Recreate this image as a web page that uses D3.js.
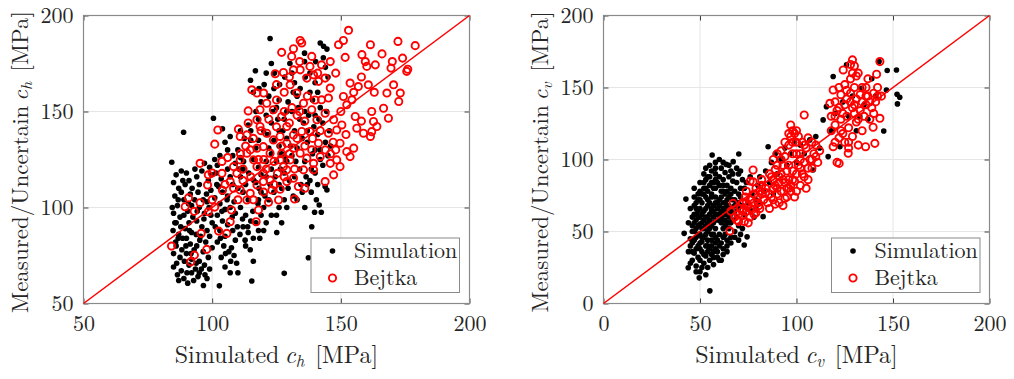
<!DOCTYPE html>
<html>
<head>
<meta charset="utf-8">
<script src="https://cdn.jsdelivr.net/npm/d3@7"></script>
<style>
  body { margin: 0; background: #fff; }
</style>
</head>
<body>
<svg id="chart" width="1014" height="379"></svg>
<script>
// ---- horizontal stiffness c_h [MPa] ----
const leftTicks = [50, 100, 150, 200];
const leftSimulation = [
  [84.3,123.6],[85,113],[86,117],[87,110],[85.5,106],[88,108],[86.5,101],[85,97],[87.5,95],[86,92],
  [84.8,88],[87,86],[88.5,84],[86,80],[85,76],[87.5,74],[86.2,71],[85,69],[88,67],[86.5,65],
  [89,63],[87,62],[90.5,60.6],[89.5,112],[90,118],[91,114],[89,104],[91.5,107],[92,101],[90.5,98],
  [92.5,95],[91,92],[89.5,89],[92,87],[90,84],[91.5,81],[93,78],[90,76],[92,73],[91,70],
  [93.5,68],[92,66],[94.5,64],[88.9,139.2],
  [94,116],[95,112],[96,119],[94.5,108],[96.5,104],[95,100],[97,97],[94,93],[96,90],[98,88],
  [95.5,85],[97.5,82],[94,80],[96.5,77],[98.5,74],[95,72],[97,70],[99,68],[96.6,59.4],[98,63],
  [95,66],[99,121],[97,123],[98.5,114],[99.5,109],[98,103],[99.5,96],[100,92],[99,85],[100,79],
  [84.5,100],[85.5,92],[86.8,84],[88.2,78],[89.2,72],[90.2,66],[91.2,88],[92.2,110],[93.2,104],[94.2,98],
  [88,119],[89,96],[90.8,102],[93.8,86],[95.2,83],[96.8,94],[97.8,107],[98.8,100],[99.8,117],[93.3,120],
  [85.8,82],[87.8,90],[89.8,80],[91.8,76],[93.8,71],[95.8,68],[97.2,65],[92.8,62],[86.8,104],[88.6,114],
  [100.5,146.5],[101,125],[102,122],[103,127],[101.5,118],[103.5,115],[102.5,111],[104,108],[101,105],[103,102],
  [105,99],[102,96],[104,93],[106,91],[103,88],[105,85],[102,82],[104.5,80],[106.5,77],[103.5,74],
  [102.8,59.2],[105,69],[107,66],[106,120],[107,116],[108,112],[106,106],[108.5,103],[107,100],[109,97],
  [106,130],[108,127],[109,123],[105,134],[107,137],[104,141],[108,88],[109,83],[107.5,79],[108.5,75],
  [109.5,71],[110,66],
  [101.8,112],[103.8,98],[105.8,104],[107.8,95],[109.8,90],[111.8,94],[113.8,90],[115.8,98],[117.8,102],[101.2,90],
  [103.2,84],[105.2,76],[107.2,72],[110.8,86],[112.8,83],[114.8,78],
  [110,130],[111,126],[112,120],[111,116],[113,112],[112,108],[114,104],[111,100],[113,96],[115,93],
  [112,90],[114,87],[116,84],[113,80],[115.4,61.7],[116,72],[110,110],[115,140],[114,143],[116.8,171.2],
  [114.9,166.3],[116,160],[117,150],[118,146],[115,135],[117,131],[116,125],[118,121],[119,117],[117,113],
  [119,108],[118,104],[120,100],[119,96],[117,92],[120,88],[118.5,84],[112.5,136],[111,140],[119,155],
  [120,140],[118,135],[110.5,120],[112.2,124],[114.2,118],[116.2,114],[118.2,110],[118.2,162],[118,88],
  [122.5,188],[121,170],[123,175],[124,162],[122,158],[125,152],[121,148],[123,144],[126,140],[124,135],
  [122,131],[127,128],[125,124],[123,120],[121,116],[126,112],[124,108],[128,104],[122,104],[125,96],
  [127,92],[125.1,87],[128,65.7],[129,136],[128,146],[126,156],[129,150],[128,118],[130,114],[127,110],
  [129,100],[121,124],[123,128],[126,132],[129,124],
  [120.5,106],[122.5,112],[124.5,116],[126.5,120],[128.5,126],[121.5,138],[123.5,150],[125.5,146],[127.5,140],[129.5,155],
  [128.2,168],[126.2,164],[124.2,170],[120.2,164],[129.5,110],[126,100],[123,96],[121,92],
  [131,170],[132,165],[133,158],[131,150],[134,146],[132,140],[135,136],[133,131],[131,127],[136,124],
  [134,120],[132,116],[137,112],[135,108],[133,104],[136,100],[138.7,90],[137.4,73.8],[139.8,97.5],[142.4,97.5],
  [141.6,101.3],[144.6,109.1],[143.9,110.9],[142,185.7],[143.3,184],[144.6,182.5],[135.9,180.4],[135.9,176],[138,170],[140,165],
  [141,160],[139,156],[142,152],[140,148],[143,144],[141,138],[144,134],[142,130],[145,127],[143,122],
  [140,118],[138,114],[141,112],[139,128],[137,140],[136,150],[138,160],[145,168],[144,173],[137,134],
  [140,130],[142,125],[146,132],
  [130.5,132],[132.5,124],[134.5,112],[136.5,116],[138.5,120],[131.5,160],[133.5,152],[135.5,144],[137.5,148],[139.5,142],
  [141.5,146],[130.2,175],[134.2,162],[136.2,168],[140.2,176],[143.2,178],[144.5,150],[145.5,140],[140.5,104],[138.5,108],
  [131.5,106]
];
const leftBejtka = [
  [84.2,79.9],[91.7,71.7],[93.1,75.2],[97.9,78.2],[95.7,86.5],[102.5,87.7],[105.7,86.5],[107,92.6],[117.1,92.6],[118,98.7],
  [95.3,102.5],[90.8,105],[89.5,100.4],[98.5,97.8],[101,100.2],[107.5,98.7],[113.5,103.9],[121.9,102.7],[125.8,103.9],[132,104.4],
  [95.3,123],[98.5,117],[98.2,111.7],[103.8,117.8],[103.8,124],[101,133],[102.2,140.4],[110.2,140.8],[110.9,137],[113.5,137.8],
  [114,144],[114,150.3],[115.4,161.3],[117.4,159.6],[120,159.6],[124.5,169.7],[127.7,170.3],[127,180.8],[130.9,178.7],[131.6,182.7],
  [134.2,187],[134.8,185.7],[138.7,178.7],[138,173.5],[142.5,174.3],[145.9,176],[149.1,184.8],[151,187],[153,192.3],[151.7,178.2],
  [158.2,179.6],[159.5,176],[161.5,184.8],[160.1,173.5],[163.4,174.3],[166,180],[172.2,186.5],[178.9,184.3],[174,177.8],[169.5,172.6],
  [175.6,170.9],[170.5,163.9],[167.9,159.6],[173.1,159.6],[172.5,155.2],[166.6,151.7],[168.5,146.5],[164,142.2],[162.7,144.8],[161.5,137],
  [158.8,138.7],[156.2,141.3],[155.6,147.4],[154.3,156.1],[152.3,153.5],[151,157.8],[153.6,164.8],[156.8,163],[160.7,163.9],[155,130.9],
  [153.6,126.5],[152.3,129.1],[149.7,133.5],[148.4,124.8],[149.7,121.3],[147.2,117],[143.9,113.5],[145.9,123],[142,126.5],[139.4,123],
  [136.8,125.7],[138.7,130],[141.3,133.5],[145.2,138.7],[148.4,140.4],[147.2,145.7],[143.9,149.1],[142.5,156.1],[145.2,157],[145.9,162.2],
  [143.9,167.4],[141.3,165.7],[139.4,169.1],[136.8,167.4],[134.2,171.7],[131.6,171.7],[130.3,163.9],[132.9,159.6],[135.5,154.3],[138.7,150.9],
  [140.7,145.7],[138,139.6],[134.8,139.6],[131.6,137.8],[129,142.2],[127,147.4],[123.8,150.9],[121.2,154.3],[118.6,150.9],[117.4,145.7],
  [118.6,142.2],[121.2,138.7],[123.8,135.2],[126.4,137],[129,133.5],[131.6,130.9],[134.2,128.3],[130.3,124.8],[127.7,121.3],[125.4,117.8],
  [122.5,114.3],[119.9,117.8],[117.4,121.3],[116.1,124.8],[113.5,128.3],[110.9,124.8],[108.3,121.3],[109.6,117.8],[107,113.5],[108.3,110],
  [110.9,109.1],[114.8,107.4],[117.4,111.7],[119.9,113.5],[129,113.5],[131.6,115.2],[129,119.6],[126.4,124.8],[122.5,128.3],[119.9,131.7],
  [117.4,130.9],[114.8,130],[126.4,109.5],[123.2,109.1],[133.5,110.9],[135.5,119.6],[139.4,119.6],[150.4,143],[162,139.5],[128,160],
  [125,142],[133,148],[136,145],[131,152],[127,128],[120,125],[112,114],[104,109],[100,104],[93,98],
  [112,120],[115,116],[118,125],[121,120],[124,124],[127,132],[130,128],[133,136],[136,132],[139,136],
  [142,140],[144,130],[146,128],[147,134],[140,156],[137,158],[134,150],[128,150],[125,156],[122,146],
  [119,140],[116,136],[113,132],[111,128],[120,108],[124,112],[128,116],[132,120],[136,110],[105,112],
  [100,118],[106,126],[110,104],[116,104],[130,144],[134,176],[130,168],[125,164],[141,170],[148,170],
  [150,150],[155,160],[158,168],[163,160],[170,176],[176,172],[162,150],[158,145],[152,138],[148,130]
];

// ---- vertical stiffness c_v [MPa] ----
const rightTicks = [0, 50, 100, 150, 200];
const rightSimulation = [
  [55.1,8.8],[49.6,17.8],[43.9,24.8],[41.8,48.7],[42.7,72.5],[56.3,103.1],[70.1,103.8],[67.2,98.5],[63.6,96.6],[72.9,40.6],
  [74.4,46.3],[46,30],[48,26],[50,22],[52,28],[54,25],[47,35],[49,32],[51,36],[53,33],
  [55,30],[57,27],[45,40],[47,44],[49,40],[51,43],[53,40],[55,38],[57,36],[59,32],
  [61,30],[46,50],[48,52],[50,48],[52,46],[54,50],[56,44],[58,42],[60,40],[62,38],
  [44,56],[46,60],[48,58],[50,55],[52,58],[54,56],[56,54],[58,52],[60,48],[62,46],
  [64,44],[45,66],[47,68],[49,64],[51,62],[53,66],[55,62],[57,60],[59,58],[61,56],
  [63,54],[65,52],[47,74],[49,72],[51,70],[53,74],[55,70],[57,68],[59,66],[61,64],
  [63,62],[65,60],[67,58],[50,78],[52,80],[54,78],[56,76],[58,74],[60,72],[62,70],
  [64,68],[66,66],[68,64],[50,84],[53,86],[55,82],[57,80],[59,84],[61,78],[63,76],
  [65,74],[67,72],[69,70],[58,90],[60,88],[62,86],[64,82],[66,80],[68,78],[70,76],
  [61,94],[63,91],[65,88],[67,85],[69,84],[71,80],[72,86],[70,90],[66,92],[56,92],
  [52,90],[48,46],[50,38],[58,46],[60,62],[62,52],[54,44],[56,64],[58,80],[64,72],
  [66,56],[68,50],[70,54],[64,36],[60,30],[66,46],[52,52],[54,60],[48,66],[56,48],
  [50,60],[62,78],[46,42],[44,36],[58,98],[55,96],[53,94],[60,100],[51,46],[53,54],
  [57,56],[59,70],[61,74],[63,66],[49,54],[47,62],
  [45,45],[47,50],[49,48],[51,52],[53,48],[55,52],[57,48],[59,44],[61,42],[63,48],
  [46,54],[48,62],[50,66],[52,64],[54,68],[56,66],[58,62],[60,58],[62,58],[64,56],
  [47,56],[49,60],[51,56],[53,60],[55,58],[57,64],[59,62],[61,60],[63,58],[65,56],
  [48,70],[50,72],[52,76],[54,72],[56,74],[58,70],[60,68],[62,66],[64,64],[66,62],
  [52,84],[54,88],[56,84],[58,86],[60,82],[62,82],[64,78],[66,76],[68,72],[70,70],
  [50,30],[52,34],[54,36],[56,34],[58,38],[48,38],[46,36],[50,42],[54,40],[56,40],
  [45,28],[48,22],[51,25],[53,20],[57,32],[59,36],[62,34],[64,40],[66,42],[68,46],
  [69,60],[67,64],[65,68],[63,70],[71,74],[72,68],[70,66],[68,68],[58,94],[62,98],
  [65,96],[67,90],[69,94],[71,92],[55,88],[57,84],[53,80],[51,76],[49,76],[47,80],
  [75,70],[76,65],[77,76],[78,60],[79,72],[80,82],[82.7,60.3],[81,88],[83,78],[84,92],
  [85.3,108.9],[86,84],[87,98],[88,76],[89,104],[90,90],[92,100],[94,108],[95,96],[97,104],
  [99,112],[100,98],[102,110],[104,104],[106.9,113.6],[108.6,92.7],[110,116],[112,108],[113.8,127.5],[115.5,136.7],
  [116.4,102],[118,120],[119,157.6],[120,132],[122.5,108.9],[124,140],[125.9,165.7],[127,130],[129,144],[131,120],
  [132.8,129.8],[133.7,149.5],[135,138],[137,128],[139,156],[141,144],[142.8,168],[145.2,119.8],[146.6,148.3],[147,161.8],
  [151.8,162.2],[152.1,145.3],[153.5,143.2],[152.3,138.6],[76,88],[79,66],[81,70],[73,80],[74,84],[72,52],
  [70,44],[71,48],[73,62]
];
const rightBejtka = [
  [65.5,50.3],[67.2,69.5],[66,64],[68,60],[69,58],[70,62],[71,66],[72,61],[73,57],[74,64],
  [72,70],[73.5,74],[75,68],[76,72],[74,78],[76,60],[77,65],[78,70],[78,76],[79,80],
  [77.5,84.5],[77.5,92.7],[80,74],[81,78],[80.5,68],[79,63],[82,82],[82,86],[83,72],[84,77],
  [75,56],[70,57],[76,85],[81,66],[72,64],[74,70],[76,66],[78,62],[80,70],[82,76],
  [85,70],[86,66],[87,74],[88,80],[87,88],[89,93],[88,100],[90,104],[89,69],[90,76],
  [91,84],[92,90],[93,96],[94,73],[95,80],[96,86],[94,102],[96,110],[97,116],[98,120],
  [97,124],[99,118],[100,112],[98,92],[99,85],[100,78],[101,96],[102,104],[103,90],[104,98],
  [104,130.9],[105,108],[106,115],[107,100],[108,94],[106,86],[109,104],[110,110],[108,112],[111,98],
  [112,106],[102,82],[105,80],[93,68],[91,70],[95,74],[97,78],[100,120],[101,116],[103,112],
  [92,100],[95,92],[98,104],[96,96],
  [84,80],[86,76],[88,72],[90,80],[92,78],[94,84],[96,80],[98,86],[100,90],[102,94],
  [104,88],[106,94],[108,100],[110,102],[86,90],[88,86],[90,96],[92,106],[94,112],[96,118],
  [98,112],[100,104],[102,100],[104,110],[97,82],[99,74],[89,82],[91,88],[93,86],
  [117.3,139],[118,130],[119,148.3],[119,108.9],[120,124],[120,140],[121,134],[121,98],[122.1,97.3],[122,115],
  [123,128],[123,145],[124.2,162.2],[124,118],[125,138],[125,152],[126,130],[126.8,104.3],[127,112],[127,122],
  [128,146],[128,156],[129,169.2],[129,136],[129,116],[130,165],[130,150],[131,126],[131,142],[132,160],
  [132,110],[133,134],[133,145],[134,140],[134,120],[135,130],[135.8,108.9],[136,150],[136,138],[137,144],
  [138,128],[139,136],[139.7,122.4],[140,146],[140.6,111.2],[141.5,159.2],[141,140],[142,150],[143.2,128.6],[143.2,168],
  [144,144],[122,150],[126,142],[130,132],[120,112],
  [118,120],[120,130],[122,136],[124,132],[126,148],[128,140],[130,138],[132,128],[134,150],[136,144],
  [138,140],[140,132],[142,144],[123,120],[127,108],[125,112],[129,160],[131,158],[128,166],[137,156]
];
const legendLabels = ["Simulation", "Bejtka"];

const FONT = "'Latin Modern Roman', 'Liberation Serif', serif";
const RED = "#ff0000";
const svg = d3.select("#chart");

// axis title: "<before> c_sub [MPa]" with an italic c and subscript
function labelWithSub(sel, before, sub) {
  sel.append("tspan").text(before);
  sel.append("tspan").attr("dx", "0.22em").style("font-style", "italic").text("c");
  sel.append("tspan").style("font-style", "italic").style("font-size", "0.7em").attr("dy", "0.22em").text(sub);
  sel.append("tspan").attr("dy", "-0.154em").attr("dx", "0.45em").text("[MPa]");
}

function drawPanel(cfg) {
  const x = d3.scaleLinear().domain(cfg.domain).range([cfg.left, cfg.right]);
  const y = d3.scaleLinear().domain(cfg.domain).range([cfg.bottom, cfg.top]);
  const g = svg.append("g");

  // grid
  g.selectAll(".gx").data(cfg.ticks).join("line")
    .attr("x1", d => x(d)).attr("x2", d => x(d))
    .attr("y1", cfg.top).attr("y2", cfg.bottom)
    .attr("stroke", "#e6e6e6").attr("stroke-width", 1);
  g.selectAll(".gy").data(cfg.ticks).join("line")
    .attr("y1", d => y(d)).attr("y2", d => y(d))
    .attr("x1", cfg.left).attr("x2", cfg.right)
    .attr("stroke", "#e6e6e6").attr("stroke-width", 1);

  // axes with inward ticks on all four sides
  const styleAxis = a => {
    a.select(".domain").remove();
    a.selectAll(".tick line").attr("stroke", "#404040");
    a.selectAll("text").style("font-family", FONT)
      .style("font-size", "22px").attr("fill", "#262626");
  };
  g.append("g").attr("transform", `translate(0,${cfg.bottom})`)
    .call(d3.axisBottom(x).tickValues(cfg.ticks).tickSize(-5).tickPadding(12).tickFormat(d3.format("d")))
    .call(styleAxis);
  g.append("g").attr("transform", `translate(${cfg.left},0)`)
    .call(d3.axisLeft(y).tickValues(cfg.ticks).tickSize(-5).tickPadding(10).tickFormat(d3.format("d")))
    .call(styleAxis);
  g.append("g").attr("transform", `translate(0,${cfg.top})`)
    .call(d3.axisTop(x).tickValues(cfg.ticks).tickSize(-5).tickFormat(""))
    .call(styleAxis);
  g.append("g").attr("transform", `translate(${cfg.right},0)`)
    .call(d3.axisRight(y).tickValues(cfg.ticks).tickSize(-5).tickFormat(""))
    .call(styleAxis);

  // box
  g.append("rect").attr("x", cfg.left).attr("y", cfg.top)
    .attr("width", cfg.right - cfg.left).attr("height", cfg.bottom - cfg.top)
    .attr("fill", "none").attr("stroke", "#8a8a8a").attr("stroke-width", 1.2);

  // simulated points
  g.append("g").selectAll("circle").data(cfg.sim).join("circle")
    .attr("cx", d => x(d[0])).attr("cy", d => y(d[1])).attr("r", 2.8)
    .attr("fill", "#000");

  // 1:1 line
  g.append("line")
    .attr("x1", x(cfg.domain[0])).attr("y1", y(cfg.domain[0]))
    .attr("x2", x(cfg.domain[1])).attr("y2", y(cfg.domain[1]))
    .attr("stroke", RED).attr("stroke-width", 1.5);

  // Bejtka points
  g.append("g").selectAll("circle").data(cfg.bej).join("circle")
    .attr("cx", d => x(d[0])).attr("cy", d => y(d[1])).attr("r", 3.6)
    .attr("fill", "none").attr("stroke", RED).attr("stroke-width", 1.9);

  // axis titles
  const xl = g.append("text").attr("x", (cfg.left + cfg.right) / 2).attr("y", 363)
    .attr("text-anchor", "middle").style("font-family", FONT).style("font-size", "24px").attr("fill", "#262626");
  labelWithSub(xl, "Simulated", cfg.sub);
  const yl = g.append("text")
    .attr("transform", `translate(${cfg.ylabX},162) rotate(-90)`)
    .attr("text-anchor", "middle").style("font-family", FONT).style("font-size", "23px").attr("fill", "#262626");
  labelWithSub(yl, "Measured/Uncertain", cfg.sub);

  // legend
  const lg = g.append("g");
  lg.append("rect").attr("x", cfg.legX).attr("y", 238).attr("width", 148.5).attr("height", 54.5)
    .attr("fill", "#fff").attr("stroke", "#8a8a8a").attr("stroke-width", 1);
  lg.append("circle").attr("cx", cfg.legX + 21.5).attr("cy", 251).attr("r", 2.8).attr("fill", "#000");
  lg.append("circle").attr("cx", cfg.legX + 21.5).attr("cy", 278).attr("r", 3.6)
    .attr("fill", "none").attr("stroke", RED).attr("stroke-width", 1.9);
  lg.selectAll("text").data(legendLabels).join("text")
    .attr("x", cfg.legX + 43).attr("y", (d, i) => 258 + i * 27)
    .style("font-family", FONT).style("font-size", "22px").attr("fill", "#262626")
    .text(d => d);
}

drawPanel({ domain: [50, 200], ticks: leftTicks, left: 83.5, right: 469.5, top: 15.5, bottom: 303.5,
  sim: leftSimulation, bej: leftBejtka, sub: "h", ylabX: 28, legX: 311 });
drawPanel({ domain: [0, 200], ticks: rightTicks, left: 603.5, right: 989.5, top: 15.5, bottom: 303.5,
  sim: rightSimulation, bej: rightBejtka, sub: "v", ylabX: 548, legX: 831.5 });
</script>
</body>
</html>
